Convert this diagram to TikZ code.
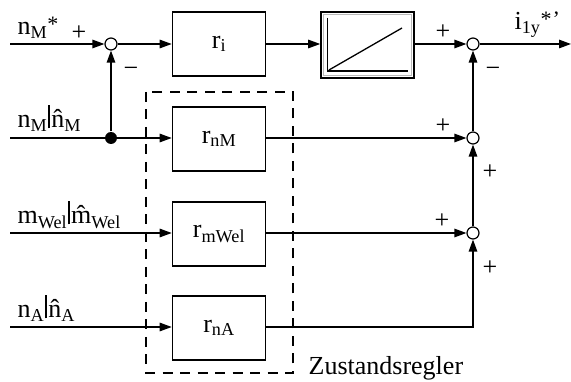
\documentclass[tikz,border=0pt]{standalone}
\usepackage{fontspec}
\setmainfont{Liberation Serif}
\usetikzlibrary{arrows.meta}

% separator bar between measured and estimated signal
\newcommand{\sigbar}{\kern1pt\rule[-0.5pt]{1.8pt}{23pt}\kern1.2pt}
% raised asterisk for reference values
\newcommand{\refstar}[1]{\raisebox{3.5pt}{\fontsize{22}{22}\selectfont #1}}

\begin{document}
\begin{tikzpicture}[x=1pt,y=-1pt,
  font=\fontsize{26}{30}\selectfont,
  line width=1.3pt,
  >={Triangle[length=12pt,width=8.5pt]},
  blockbox/.style={draw,line width=1.6pt,minimum width=93pt,minimum height=64pt,inner sep=0pt},
  sumpt/.style={circle,draw,fill=white,line width=1.2pt,minimum size=12pt,inner sep=0pt},
  junction/.style={circle,fill=black,minimum size=12pt,inner sep=0pt},
  lbl/.style={anchor=base west,inner sep=0pt},
  sgn/.style={inner sep=0pt}]
\useasboundingbox (0,0) rectangle (571,382);

% controller group frame
\draw[dash pattern=on 10pt off 7.5pt,line width=1.3pt] (146,92) rectangle (293,373);

% blocks
\node[blockbox] (ri)    at (219,44)  {r\textsubscript{i}};
\node[blockbox] (rnM)   at (219,139) {r\textsubscript{nM}};
\node[blockbox] (rmWel) at (219,234) {r\textsubscript{mWel}};
\node[blockbox] (rnA)   at (219,328) {r\textsubscript{nA}};

% integrator block with ramp symbol
\node[draw,line width=1.6pt,minimum width=93pt,minimum height=66pt,inner sep=0pt] (ramp) at (367.5,45) {};
\draw[gray!55,line width=0.9pt] ([shift={(3,3)}]ramp.north west) rectangle ([shift={(-3,-3)}]ramp.south east);
\draw[line width=1.3pt] (327.7,18) -- (327.7,71) -- (407.7,71);
\draw[line width=1.3pt] (329,70) -- (402,28);

% summing points
\node[sumpt] (s1) at (111,44) {};
\node[sumpt] (s2) at (473,44) {};
\node[sumpt] (s3) at (473,138) {};
\node[sumpt] (s4) at (473,233) {};
\node[junction] (j) at (111,138) {};

% signal ends
\coordinate (in1) at (10,44);
\coordinate (in2) at (10,138);
\coordinate (in3) at (10,233);
\coordinate (in4) at (10,327);
\coordinate (out) at (571,44);
\coordinate (bend) at (473,327);

% connectors
\draw[->] (in1) -- (s1);
\draw[->] (s1) -- (ri.west |- s1);
\draw[->] (ri.east |- s1) -- (ramp.west |- s1);
\draw[->] (ramp.east |- s2) -- (s2);
\draw[->] (s2) -- (out);

\draw[->] (in2) -- (rnM.west |- in2);
\draw[->] (j) -- (s1);
\draw[->] (rnM.east |- s3) -- (s3);
\draw[->] (s3) -- (s2);

\draw[->] (in3) -- (rmWel.west |- in3);
\draw[->] (rmWel.east |- s4) -- (s4);
\draw[->] (s4) -- (s3);

\draw[->] (in4) -- (rnA.west |- in4);
\draw[->] (rnA.east |- bend) -- (bend) -- (s4);

% signal labels
\node[lbl] (lnMs)  at (17,35)  {n\textsubscript{M}\refstar{*}};
\node[lbl] (lnM)   at (17,128) {n\textsubscript{M}\sigbar\^{n}\textsubscript{M}};
\node[lbl] (lmWel) at (17,224) {m\textsubscript{Wel}\sigbar\^{m}\textsubscript{Wel}};
\node[lbl] (lnA)   at (17,318) {n\textsubscript{A}\sigbar\^{n}\textsubscript{A}};
\node[lbl] (liy)   at (514,30) {i\textsubscript{1y}\refstar{*\kern1pt'}};
\node[lbl] (lzr)   at (308,375) {Zustandsregler};

% signs at the summing points
\node[sgn] (p1) at (79,33)  {+};
\node[sgn] (m1) at (131,72) {−};
\node[sgn] (p2) at (443,32) {+};
\node[sgn] (m2) at (493,72) {−};
\node[sgn] (p3) at (443,126) {+};
\node[sgn] (p4) at (490,172) {+};
\node[sgn] (p5) at (442,221) {+};
\node[sgn] (p6) at (490,268) {+};
\end{tikzpicture}
\end{document}
